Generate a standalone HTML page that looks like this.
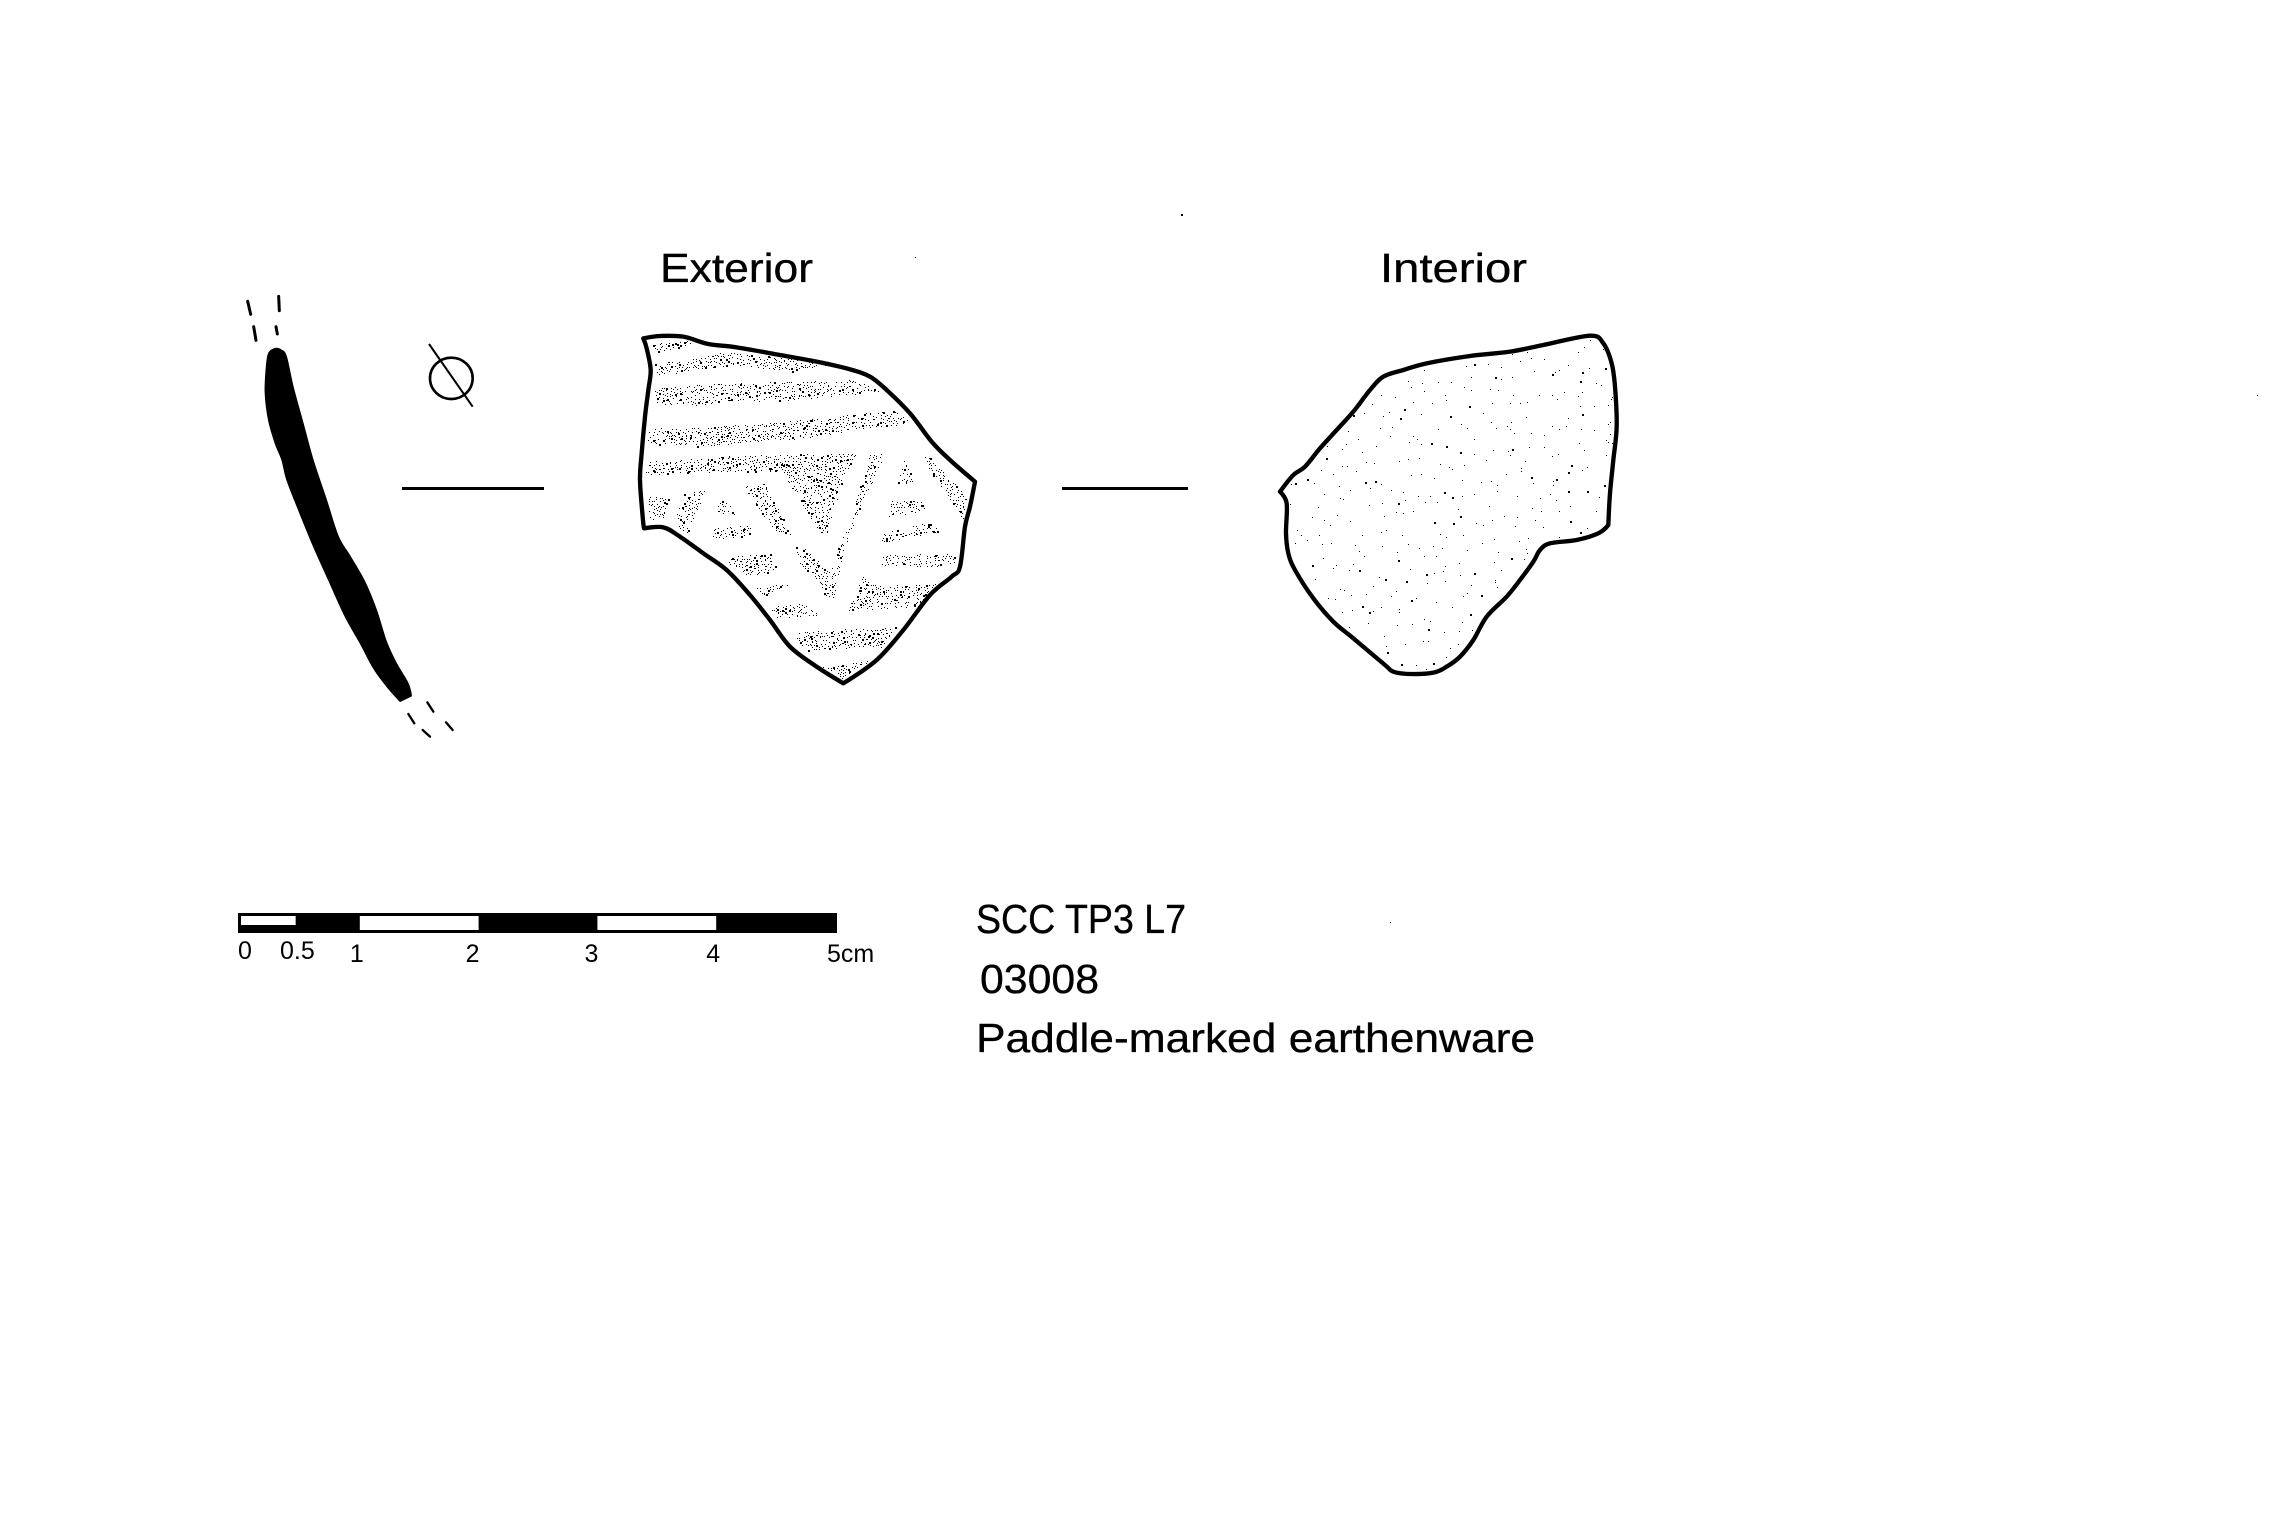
<!DOCTYPE html>
<html lang="en">
<head>
<meta charset="utf-8">
<title>SCC TP3 L7 03008 paddle-marked earthenware</title>
<style>
html,body{margin:0;padding:0;background:#fff;width:2273px;height:1529px;overflow:hidden}
svg{display:block}
text{font-family:"Liberation Sans",sans-serif;fill:#000}
.big{stroke:#000;stroke-width:.35px}
</style>
</head>
<body>
<svg id="plate" xmlns="http://www.w3.org/2000/svg" width="2273" height="1529" viewBox="0 0 2273 1529">
  <rect width="2273" height="1529" fill="#fff"/>

  <text class="big" x="660" y="282" font-size="41" textLength="153" lengthAdjust="spacingAndGlyphs">Exterior</text>
  <text class="big" x="1380" y="282" font-size="41" textLength="147" lengthAdjust="spacingAndGlyphs">Interior</text>

  <g transform="translate(230 280) scale(.33333)">
    <path id="profileShape" fill="#000" stroke="#000" stroke-width="2"/>
    <g stroke="#000" stroke-width="9" stroke-linecap="round" fill="none">
      <path d="M53 64L62 103M71 140L78 181M146 49L148 92M138 140L142 162"/>
      <path stroke-width="7" d="M592 1267L610 1295M535 1302L553 1330M648 1327L668 1350M578 1350L600 1370"/>
    </g>
    <ellipse cx="664" cy="295" rx="64" ry="62" fill="none" stroke="#000" stroke-width="8"/>
    <line x1="597" y1="192" x2="728" y2="380" stroke="#000" stroke-width="6"/>
  </g>

  <rect x="402" y="487" width="142" height="3" fill="#000"/>
  <rect x="1062" y="487" width="126" height="3" fill="#000"/>

  <g transform="translate(630 320) scale(.33333)">
    <path id="extStipple" fill="#000" shape-rendering="crispEdges"/>
    <path id="extOutline" fill="none" stroke="#000" stroke-width="13" stroke-linejoin="round"/>
  </g>

  <g transform="translate(1270 320) scale(.33333)">
    <path id="intStipple" fill="#000" shape-rendering="crispEdges"/>
    <path id="intOutline" fill="none" stroke="#000" stroke-width="13" stroke-linejoin="round"/>
  </g>

  <g id="scaleBar">
    <rect x="238" y="913" width="599" height="20" fill="#000"/>
  </g>

  <text class="big" x="976" y="933" font-size="41" textLength="210" lengthAdjust="spacingAndGlyphs">SCC TP3 L7</text>
  <text class="big" x="980" y="993" font-size="41" textLength="119" lengthAdjust="spacingAndGlyphs">03008</text>
  <text class="big" x="976" y="1052" font-size="41" textLength="559" lengthAdjust="spacingAndGlyphs">Paddle-marked earthenware</text>

  <g fill="#000">
    <rect x="1181" y="214" width="2" height="2"/>
    <rect x="915" y="257" width="1" height="1"/>
    <rect x="2257" y="395" width="1" height="1"/>
    <rect x="1390" y="922" width="1" height="1"/>
  </g>
</svg>
<script>
// Scale bar values (centimetres)
var scaleValues = [0, 0.5, 1, 2, 3, 4, 5];
var scaleLabels = ["0", "0.5", "1", "2", "3", "4", "5cm"];
var whiteSegmentStarts = [0, 1, 3];
var whiteSegmentEnds = [0.46, 2, 4];

// Outlines
var profileOutline = "135,205 115,220 108,265 105,340 115,420 135,490 155,540 170,600 205,690 250,800 295,900 345,1010 390,1090 430,1165 470,1220 510,1265 545,1248 535,1210 500,1150 470,1085 440,990 405,905 362,830 326,770 290,660 250,540 220,430 190,320 170,230 155,210";
var exteriorOutline = "40,55 90,48 160,50 235,72 320,82 450,105 560,125 660,148 720,170 770,210 840,280 905,365 960,420 1035,485 1020,560 1005,620 990,740 965,770 900,825 820,930 740,1020 640,1090 560,1040 480,980 420,900 360,825 290,750 220,700 150,650 100,622 42,625 38,590 30,480 35,400 45,290 55,210 62,150 50,85";
var interiorOutline = "30,515 70,465 105,440 150,385 200,330 250,275 300,210 340,170 400,150 470,130 600,108 720,95 820,75 960,47 1000,70 1025,130 1035,200 1040,320 1030,420 1020,520 1015,615 985,640 920,660 840,670 810,690 790,725 750,780 710,830 650,890 610,960 570,1010 530,1040 490,1058 420,1062 370,1055 345,1035 250,955 190,905 130,835 75,750 55,700 48,640 50,550";

// Indices of the sharp corners on each outline
var profileCorners = [15, 16];
var exteriorCorners = [0, 13, 21, 30];
var interiorCorners = [0, 20];

// Stippled paddle-mark regions of the exterior face
var bands = [
  "65,70 200,60 170,75 70,100",
  "70,130 200,115 280,95 400,105 590,135 500,155 300,135 190,150 85,165",
  "70,205 250,190 430,185 680,180 755,215 640,225 480,240 300,245 190,255 75,250",
  "50,325 230,320 400,310 560,295 790,270 850,310 700,325 520,355 330,370 200,380 50,370",
  "45,425 200,415 370,405 680,400 640,470 590,640 570,640 510,540 450,455 250,455 90,465 45,460",
  "55,530 125,525 95,600 55,595",
  "160,520 225,510 170,640 140,625 140,590",
  "270,520 320,585 262,575",
  "255,625 355,615 378,645 240,660",
  "300,710 420,700 445,755 350,765 290,725",
  "375,800 490,790 400,825",
  "420,860 530,850 565,885 440,895",
  "340,500 405,490 485,650 430,630",
  "495,680 525,680 590,750 625,735 620,690 660,600 720,400 770,400 690,560 640,690 610,840 585,825 570,790 510,730",
  "820,410 855,490 800,495",
  "880,395 940,450 1010,530 1000,600 960,540 890,440",
  "785,540 870,535 885,570 775,590",
  "760,640 900,605 930,635 790,660 745,680",
  "760,705 970,700 975,735 880,740 750,735",
  "700,770 730,795 920,790 870,860 650,870",
  "490,935 800,920 760,980 530,990 490,960",
  "575,1040 720,1020 640,1075"
];

function scaleX(v) { return 241 + 118.8 * v; }

var svgNS = "http://www.w3.org/2000/svg";
var bar = document.getElementById("scaleBar");

whiteSegmentStarts.forEach(function (start, i) {
  var end = whiteSegmentEnds[i];
  var r = document.createElementNS(svgNS, "rect");
  
  
  r.setAttribute("x", scaleX(start));
  r.setAttribute("width", scaleX(end) - scaleX(start));
  r.setAttribute("y", 916);
  r.setAttribute("height", i === 0 ? 9 : 14);
  r.setAttribute("fill", "#fff");
  bar.appendChild(r);
});

scaleValues.forEach(function (v, i) {
  var t = document.createElementNS(svgNS, "text");
  
  
  var edge = i === 0 || i === scaleValues.length - 1;
  var nudge = (v === 2 || v === 3) ? -6 : -3;
  t.setAttribute("text-anchor", edge ? "start" : "middle");
  t.setAttribute("x", i === 0 ? scaleX(v) - 3 : (edge ? scaleX(v) - 8 : scaleX(v) + nudge));
  t.setAttribute("y", i < 2 ? 959 : 962);
  t.setAttribute("font-size", 25);
  t.textContent = scaleLabels[i];
  bar.appendChild(t);
});

function parsePoly(s) {
  return s.trim().split(/\s+/).map(function (p) { return p.split(",").map(Number); });
}
// Closed Catmull-Rom curve through the traced points; corners get no tangent
function smooth(pts, corners) {
  var n = pts.length;
  function k(i) { return corners.indexOf(i) >= 0 ? 0 : 1 / 6; }
  var d = "M" + pts[0][0] + " " + pts[0][1];
  for (var i = 0; i < n; i++) {
    var i2 = (i + 1) % n;
    var p0 = pts[(i - 1 + n) % n], p1 = pts[i], p2 = pts[i2], p3 = pts[(i + 2) % n];
    d += "C" + (p1[0] + k(i) * (p2[0] - p0[0])).toFixed(1) + " " + (p1[1] + k(i) * (p2[1] - p0[1])).toFixed(1) +
         " " + (p2[0] - k(i2) * (p3[0] - p1[0])).toFixed(1) + " " + (p2[1] - k(i2) * (p3[1] - p1[1])).toFixed(1) +
         " " + p2[0] + " " + p2[1];
  }
  return d + "Z";
}
var intPoly = parsePoly(interiorOutline);
document.getElementById("profileShape").setAttribute("d", smooth(parsePoly(profileOutline), profileCorners));
document.getElementById("extOutline").setAttribute("d", smooth(parsePoly(exteriorOutline), exteriorCorners));
document.getElementById("intOutline").setAttribute("d", smooth(intPoly, interiorCorners));

// Deterministic texture generator for the stipple
var seed = 20240;
function rnd() {
  seed = (seed * 1664525 + 1013904223) % 4294967296;
  return seed / 4294967296;
}
function inside(pt, poly) {
  var c = false;
  for (var i = 0, j = poly.length - 1; i < poly.length; j = i++) {
    var a = poly[i], b = poly[j];
    if ((a[1] > pt[1]) !== (b[1] > pt[1]) &&
        pt[0] < (b[0] - a[0]) * (pt[1] - a[1]) / (b[1] - a[1]) + a[0]) c = !c;
  }
  return c;
}
function stipple(poly, step, keep, bigChance) {
  var xs = poly.map(function (p) { return p[0]; });
  var ys = poly.map(function (p) { return p[1]; });
  var x0 = Math.min.apply(null, xs), x1 = Math.max.apply(null, xs);
  var y0 = Math.min.apply(null, ys), y1 = Math.max.apply(null, ys);
  var d = "";
  for (var y = y0 - step; y <= y1 + step; y += step) {
    for (var x = x0 - step; x <= x1 + step; x += step) {
      var px = x + (rnd() - .5) * step, py = y + (rnd() - .5) * step;
      var k = rnd(), big = rnd() < bigChance;
      if (k > keep || !inside([px, py], poly)) continue;
      var s = big ? 6 : 3;
      px = Math.round(px / 3) * 3; py = Math.round(py / 3) * 3;
      d += "M" + px + " " + py + "h" + s + "v" + s + "h-" + s + "z";
    }
  }
  return d;
}

var extD = "";
bands.forEach(function (b) { extD += stipple(parsePoly(b), 8, .72, .12); });
document.getElementById("extStipple").setAttribute("d", extD);
document.getElementById("intStipple").setAttribute("d", stipple(intPoly, 42, .92, .14));
</script>
</body>
</html>
